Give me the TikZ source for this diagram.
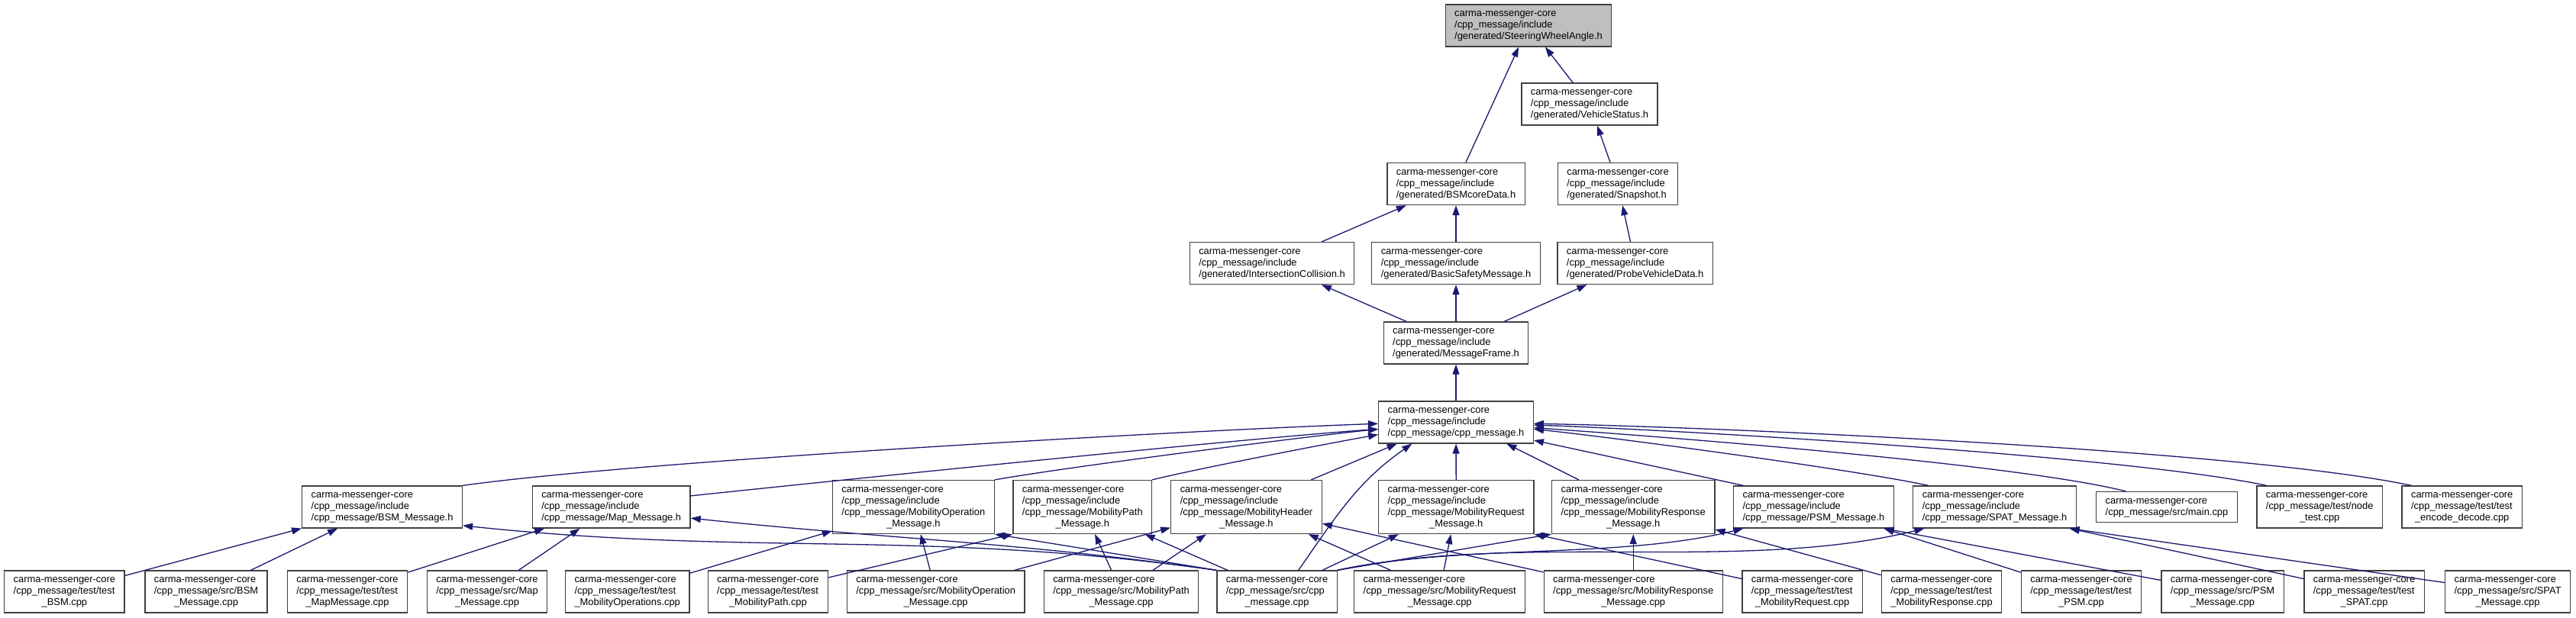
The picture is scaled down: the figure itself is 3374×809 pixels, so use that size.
\documentclass[tikz,border=0pt]{standalone}
\usepackage{fontspec}
\setmainfont{Liberation Sans}
\usepackage{tikz}
\usetikzlibrary{arrows.meta}
\definecolor{edgeblue}{HTML}{191970}
\definecolor{boxline}{HTML}{404040}
\definecolor{selfill}{HTML}{BFBFBF}

\newcommand{\hlbl}[2]{\begin{tabular}{@{}l@{}}carma-messenger-core\\#1\\#2\end{tabular}}
\newcommand{\clbl}[2]{\begin{tabular}{@{}l@{}}carma-messenger-core\\#1\\\multicolumn{1}{@{}c@{}}{#2}\end{tabular}}
\newcommand{\mlbl}[2]{\begin{tabular}{@{}l@{}}carma-messenger-core\\/cpp\_message/include\\#1\\\multicolumn{1}{@{}c@{}}{#2}\end{tabular}}
\newcommand{\tlbl}[1]{\begin{tabular}{@{}l@{}}carma-messenger-core\\#1\end{tabular}}

\tikzset{
  file/.style={draw=boxline,fill=white,line width=1.3pt,inner xsep=12pt,inner ysep=5pt,
    font=\fontsize{12.9}{15}\selectfont},
  inc/.style={draw=edgeblue,line width=1.3pt,-{Triangle[length=13pt,width=9pt]}},
}

\begin{document}
\begin{tikzpicture}[x=1pt,y=1pt]
  \path[use as bounding box,fill=white] (0,0) rectangle (3374,-809);

  % generated headers
  \node[file,fill=selfill] (swa) at (2002,-33.5) {\hlbl{/cpp\_message/include}{/generated/SteeringWheelAngle.h}};
  \node[file] (vstat) at (2082,-136.5) {\hlbl{/cpp\_message/include}{/generated/VehicleStatus.h}};
  \node[file] (bsmcore) at (1907,-241) {\hlbl{/cpp\_message/include}{/generated/BSMcoreData.h}};
  \node[file] (snap) at (2119,-241) {\hlbl{/cpp\_message/include}{/generated/Snapshot.h}};
  \node[file] (intcol) at (1666,-345) {\hlbl{/cpp\_message/include}{/generated/IntersectionCollision.h}};
  \node[file] (basicsm) at (1907,-345) {\hlbl{/cpp\_message/include}{/generated/BasicSafetyMessage.h}};
  \node[file] (probe) at (2141.6,-345) {\hlbl{/cpp\_message/include}{/generated/ProbeVehicleData.h}};
  \node[file] (mframe) at (1907,-449.5) {\hlbl{/cpp\_message/include}{/generated/MessageFrame.h}};
  \node[file] (cpph) at (1907,-553.5) {\hlbl{/cpp\_message/include}{/cpp\_message/cpp\_message.h}};

  % message headers
  \node[file] (bsmh) at (500.6,-664.5) {\hlbl{/cpp\_message/include}{/cpp\_message/BSM\_Message.h}};
  \node[file] (maph) at (800.7,-664.5) {\hlbl{/cpp\_message/include}{/cpp\_message/Map\_Message.h}};
  \node[file] (mopsh) at (1196.4,-664.5) {\mlbl{/cpp\_message/MobilityOperation}{\_Message.h}};
  \node[file] (mpathh) at (1417.8,-664.5) {\mlbl{/cpp\_message/MobilityPath}{\_Message.h}};
  \node[file] (mhdrh) at (1632.5,-664.5) {\mlbl{/cpp\_message/MobilityHeader}{\_Message.h}};
  \node[file] (mreqh) at (1907.2,-664.5) {\mlbl{/cpp\_message/MobilityRequest}{\_Message.h}};
  \node[file] (mresph) at (2139.2,-664.5) {\mlbl{/cpp\_message/MobilityResponse}{\_Message.h}};
  \node[file] (psmh) at (2375.4,-664.5) {\hlbl{/cpp\_message/include}{/cpp\_message/PSM\_Message.h}};
  \node[file] (spath) at (2612.5,-664.5) {\hlbl{/cpp\_message/include}{/cpp\_message/SPAT\_Message.h}};
  \node[file] (maincpp) at (2838,-664.5) {\tlbl{/cpp\_message/src/main.cpp}};
  \node[file] (nodetest) at (3038.2,-664.5) {\clbl{/cpp\_message/test/node}{\_test.cpp}};
  \node[file] (encdec) at (3224.7,-664.5) {\clbl{/cpp\_message/test/test}{\_encode\_decode.cpp}};

  % sources and tests
  \node[file] (tbsm) at (84.4,-775.5) {\clbl{/cpp\_message/test/test}{\_BSM.cpp}};
  \node[file] (sbsm) at (270,-775.5) {\clbl{/cpp\_message/src/BSM}{\_Message.cpp}};
  \node[file] (tmap) at (455,-775.5) {\clbl{/cpp\_message/test/test}{\_MapMessage.cpp}};
  \node[file] (smap) at (638,-775.5) {\clbl{/cpp\_message/src/Map}{\_Message.cpp}};
  \node[file] (tmops) at (821.7,-775.5) {\clbl{/cpp\_message/test/test}{\_MobilityOperations.cpp}};
  \node[file] (tmpath) at (1005.9,-775.5) {\clbl{/cpp\_message/test/test}{\_MobilityPath.cpp}};
  \node[file] (smops) at (1225.7,-775.5) {\clbl{/cpp\_message/src/MobilityOperation}{\_Message.cpp}};
  \node[file] (smpath) at (1468.5,-775.5) {\clbl{/cpp\_message/src/MobilityPath}{\_Message.cpp}};
  \node[file] (scpp) at (1672.5,-775.5) {\clbl{/cpp\_message/src/cpp}{\_message.cpp}};
  \node[file] (smreq) at (1885.7,-775.5) {\clbl{/cpp\_message/src/MobilityRequest}{\_Message.cpp}};
  \node[file] (smresp) at (2139.2,-775.5) {\clbl{/cpp\_message/src/MobilityResponse}{\_Message.cpp}};
  \node[file] (tmreq) at (2360.5,-775.5) {\clbl{/cpp\_message/test/test}{\_MobilityRequest.cpp}};
  \node[file] (tmresp) at (2543,-775.5) {\clbl{/cpp\_message/test/test}{\_MobilityResponse.cpp}};
  \node[file] (tpsm) at (2726,-775.5) {\clbl{/cpp\_message/test/test}{\_PSM.cpp}};
  \node[file] (spsm) at (2911,-775.5) {\clbl{/cpp\_message/src/PSM}{\_Message.cpp}};
  \node[file] (tspat) at (3096.5,-775.5) {\clbl{/cpp\_message/test/test}{\_SPAT.cpp}};
  \node[file] (sspat) at (3284.6,-775.5) {\clbl{/cpp\_message/src/SPAT}{\_Message.cpp}};

  % include edges
  \foreach \a/\b in {bsmcore/swa,vstat/swa,snap/vstat,intcol/bsmcore,basicsm/bsmcore,
                     probe/snap,mframe/intcol,mframe/basicsm,mframe/probe,cpph/mframe}
    \draw[inc] (\a) -- (\b);

  \draw[inc] (bsmh.north east) .. controls +(8:235) and +(182:235) .. (cpph.181);
  \draw[inc] (maph.8) .. controls +(6:177) and +(184:177) .. (cpph.185);
  \draw[inc] (mopsh.north east) .. controls +(10:100) and +(186:100) .. (cpph.185);
  \draw[inc] (mpathh.north east) .. controls +(14:60) and +(190:60) .. (cpph.189);
  \draw[inc] (mhdrh) -- (cpph.200);
  \draw[inc] (mreqh) -- (cpph);
  \draw[inc] (mresph) -- (cpph.337);
  \draw[inc] (psmh.163) -- (cpph.347);
  \draw[inc] (spath.162) .. controls +(168:103) and +(-6:103) .. (cpph.355);
  \draw[inc] (maincpp.159) .. controls +(166:153) and +(-4:153) .. (cpph.356);
  \draw[inc] (nodetest.158) .. controls +(168:189) and +(-2:189) .. (cpph.358);
  \draw[inc] (encdec.157) .. controls +(168:226) and +(-1:226) .. (cpph.359);

  \foreach \a/\b in {tbsm/bsmh,sbsm/bsmh,tmap/maph,smap/maph,tmops/mopsh,smops/mopsh,
                     smops/mhdrh,smpath/mpathh,smpath/mhdrh,smreq/mhdrh,smreq/mreqh,
                     smresp/mhdrh,smresp/mresph,tmresp/mresph,scpp/mpathh,scpp/mreqh}
    \draw[inc] (\a) -- (\b);
  \draw[inc] (tmpath) -- (mpathh.south west);
  \draw[inc] (tmreq) -- (mreqh.south east);
  \draw[inc] (tpsm) -- (psmh.-17);
  \draw[inc] (spsm) -- (psmh.-17);
  \draw[inc] (tspat) -- (spath.-16);
  \draw[inc] (sspat) -- (spath.-16);

  \draw[inc] (scpp.north west) .. controls +(172:388) and +(-6:388) .. (bsmh.-13);
  \draw[inc] (scpp.north west) .. controls +(172:272) and +(-6:272) .. (maph.-8);
  \draw[inc] (scpp.north west) -- (mopsh.south east);
  \draw[inc] (scpp.north east) -- (mresph.south west);
  \draw[inc] (scpp.north east) .. controls +(12:168) and +(194:168) .. (psmh.197);
  \draw[inc] (scpp.north east) .. controls +(12:242) and +(194:242) .. (spath.197);
  \draw[inc] (scpp.45) .. controls +(55:88) and +(215:88) .. (cpph.206);
\end{tikzpicture}
\end{document}
